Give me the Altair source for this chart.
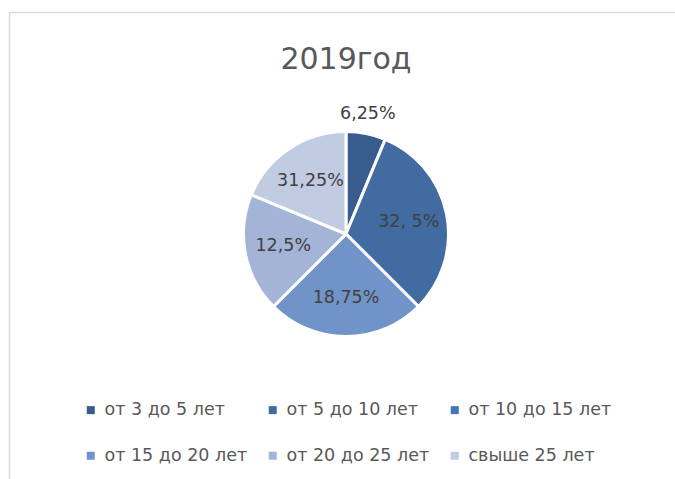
import altair as alt
import pandas as pd

title_text = ["2019год"]
categories = ["от 3 до 5 лет", "от 5 до 10 лет", "от 10 до 15 лет",
              "от 15 до 20 лет", "от 20 до 25 лет", "свыше 25 лет"]
values = [6.25, 31.25, 0, 25, 18.75, 18.75]
labels = ["6,25%", "32, 5%", "", "18,75%", "12,5%", "31,25%"]
colors = ["#375C8D", "#416BA1", "#4674B8", "#7194C8", "#A3B4D7", "#C1CBE1"]

FONT = "DejaVu Sans"
CX, CY, R = 346, 234, 102.5

df = pd.DataFrame({"idx": list(range(len(categories))), "category": categories,
                   "value": values, "label": labels})

base = alt.Chart(df).transform_filter("datum.value > 0")

theta = alt.Theta("value:Q", stack=True)
order = alt.Order("idx:Q")

arcs = base.mark_arc(outerRadius=R, stroke="white", strokeWidth=3).encode(
    theta=theta,
    order=order,
    x=alt.value(CX), y=alt.value(CY),
    color=alt.Color("category:N", sort=categories,
                    scale=alt.Scale(domain=categories, range=colors),
                    legend=alt.Legend(title=None, orient="none", legendX=82, legendY=401,
                                      direction="horizontal",
                                      columns=3, symbolType="square", symbolSize=64,
                                      symbolStrokeWidth=0, labelFont=FONT,
                                      labelFontSize=17.5, labelColor="#595959",
                                      labelOffset=5, rowPadding=27, columnPadding=16,
                                      padding=0, labelLimit=300)),
)

text_out = base.transform_calculate(
    t="datum.idx == 0 ? datum.label : ''"
).mark_text(radius=122, font=FONT, fontSize=17.5, color="#404040",
            align="center", baseline="middle").encode(
    theta=theta, order=order, x=alt.value(CX - 2), y=alt.value(CY), text="t:N")

text_in = base.transform_calculate(
    t="datum.idx == 0 ? '' : datum.label"
).mark_text(radius=64, font=FONT, fontSize=17.5, color="#404040",
            align="center", baseline="middle").encode(
    theta=theta, order=order, x=alt.value(CX), y=alt.value(CY), text="t:N")

title = alt.Chart(pd.DataFrame({"t": title_text})).mark_text(
    font=FONT, fontSize=30, color="#595959", align="center", baseline="middle"
).encode(x=alt.value(CX), y=alt.value(60), text="t:N")

frame = alt.Chart(pd.DataFrame({"a": [1]})).mark_rect(
    fill="white", stroke="#D9D9D9", strokeWidth=1.5
).encode(x=alt.value(9.5), x2=alt.value(720), y=alt.value(12.5), y2=alt.value(520))

chart = alt.layer(frame, arcs, text_out, text_in, title).properties(
    width=675, height=479, autosize=alt.AutoSizeParams(type="none"), padding=0,
    background="white"
).configure_view(stroke=None)

chart.save("out.html", embed_options={"renderer": "svg", "actions": False})
